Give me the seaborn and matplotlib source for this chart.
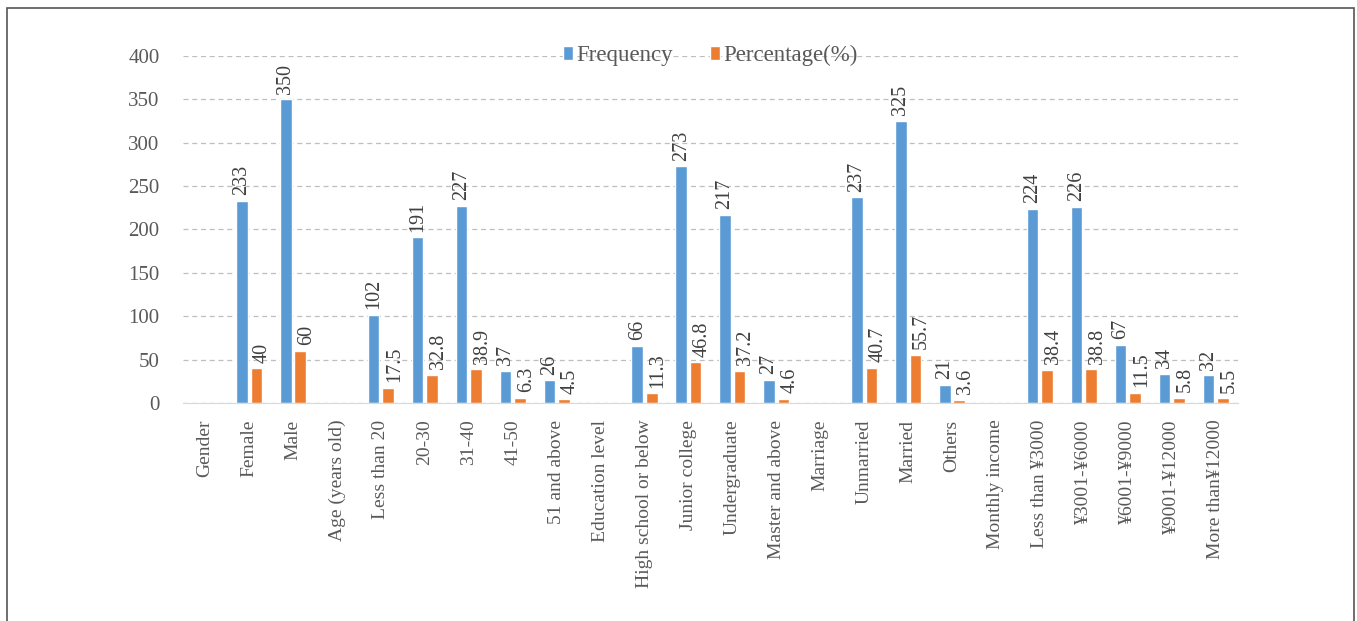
import numpy as np
import pandas as pd
import matplotlib.pyplot as plt
import seaborn as sns
from matplotlib.patches import Rectangle

# Data
categories = ['Gender', 'Female', 'Male', 'Age (years old)', 'Less than 20',
              '20-30', '31-40', '41-50', '51 and above', 'Education level',
              'High school or below', 'Junior college', 'Undergraduate',
              'Master and above', 'Marriage', 'Unmarried', 'Married', 'Others',
              'Monthly income', 'Less than ¥3000', '¥3001-¥6000', '¥6001-¥9000',
              '¥9001-¥12000', 'More than¥12000']
frequency = [np.nan, 233, 350, np.nan, 102, 191, 227, 37, 26, np.nan,
             66, 273, 217, 27, np.nan, 237, 325, 21, np.nan,
             224, 226, 67, 34, 32]
percentage = [np.nan, 40, 60, np.nan, 17.5, 32.8, 38.9, 6.3, 4.5, np.nan,
              11.3, 46.8, 37.2, 4.6, np.nan, 40.7, 55.7, 3.6, np.nan,
              38.4, 38.8, 11.5, 5.8, 5.5]
series = ['Frequency', 'Percentage(%)']
colors = ['#5B9BD5', '#ED7D31']

df = pd.DataFrame({'category': categories * 2,
                   'series': [series[0]] * len(categories) + [series[1]] * len(categories),
                   'value': frequency + percentage}).dropna()

sns.set_style('white')
plt.rcParams['font.family'] = ['Liberation Serif', 'DejaVu Serif']

fig = plt.figure(figsize=(13.57, 6.21), dpi=100)
ax = fig.add_axes([0.135, 0.351, 0.777, 0.559])

sns.barplot(data=df, x='category', y='value', hue='series', order=categories,
            hue_order=series, palette=colors, width=0.66, gap=0.2,
            saturation=1, ax=ax)

# value labels, the percentage ones sit a little right of their bars
for i, cont in enumerate(ax.containers):
    labels = ax.bar_label(cont, fmt='%g', rotation=90, padding=4, fontsize=14.5,
                          color='#404040')
    if i == 1:
        for t in labels:
            t.xyann = (4.5, 4)

ax.set_ylim(0, 400)
ax.set_yticks(range(0, 401, 50))
ax.set_xlim(-0.5, len(categories) - 0.5)
ax.yaxis.grid(True, linestyle=(0, (4, 3)), color='#bfbfbf', linewidth=0.9)
ax.set_axisbelow(True)
for s in ['top', 'right', 'left']:
    ax.spines[s].set_visible(False)
ax.spines['bottom'].set_color('#d9d9d9')
ax.tick_params(axis='both', length=0, labelcolor='#595959')
ax.tick_params(axis='y', pad=17, labelsize=15)
ax.tick_params(axis='x', pad=12, labelsize=14)
ax.set_xticks(range(len(categories)))
ax.set_xticklabels(categories, rotation=90)
ax.set_xlabel('')
ax.set_ylabel('')

ax.legend(loc='center', bbox_to_anchor=(0.5, 1.0), ncol=2, frameon=False,
          fontsize=16.5, handlelength=0.45, handleheight=0.55, handletextpad=0.15,
          columnspacing=1.6, labelcolor='#595959')

# outer frame
fig.patches.append(Rectangle((0.0055, -0.05), 0.9925, 1.037, transform=fig.transFigure,
                             fill=False, edgecolor='#555555', linewidth=1.2))

fig.savefig('out.png', dpi=100, facecolor='white')
